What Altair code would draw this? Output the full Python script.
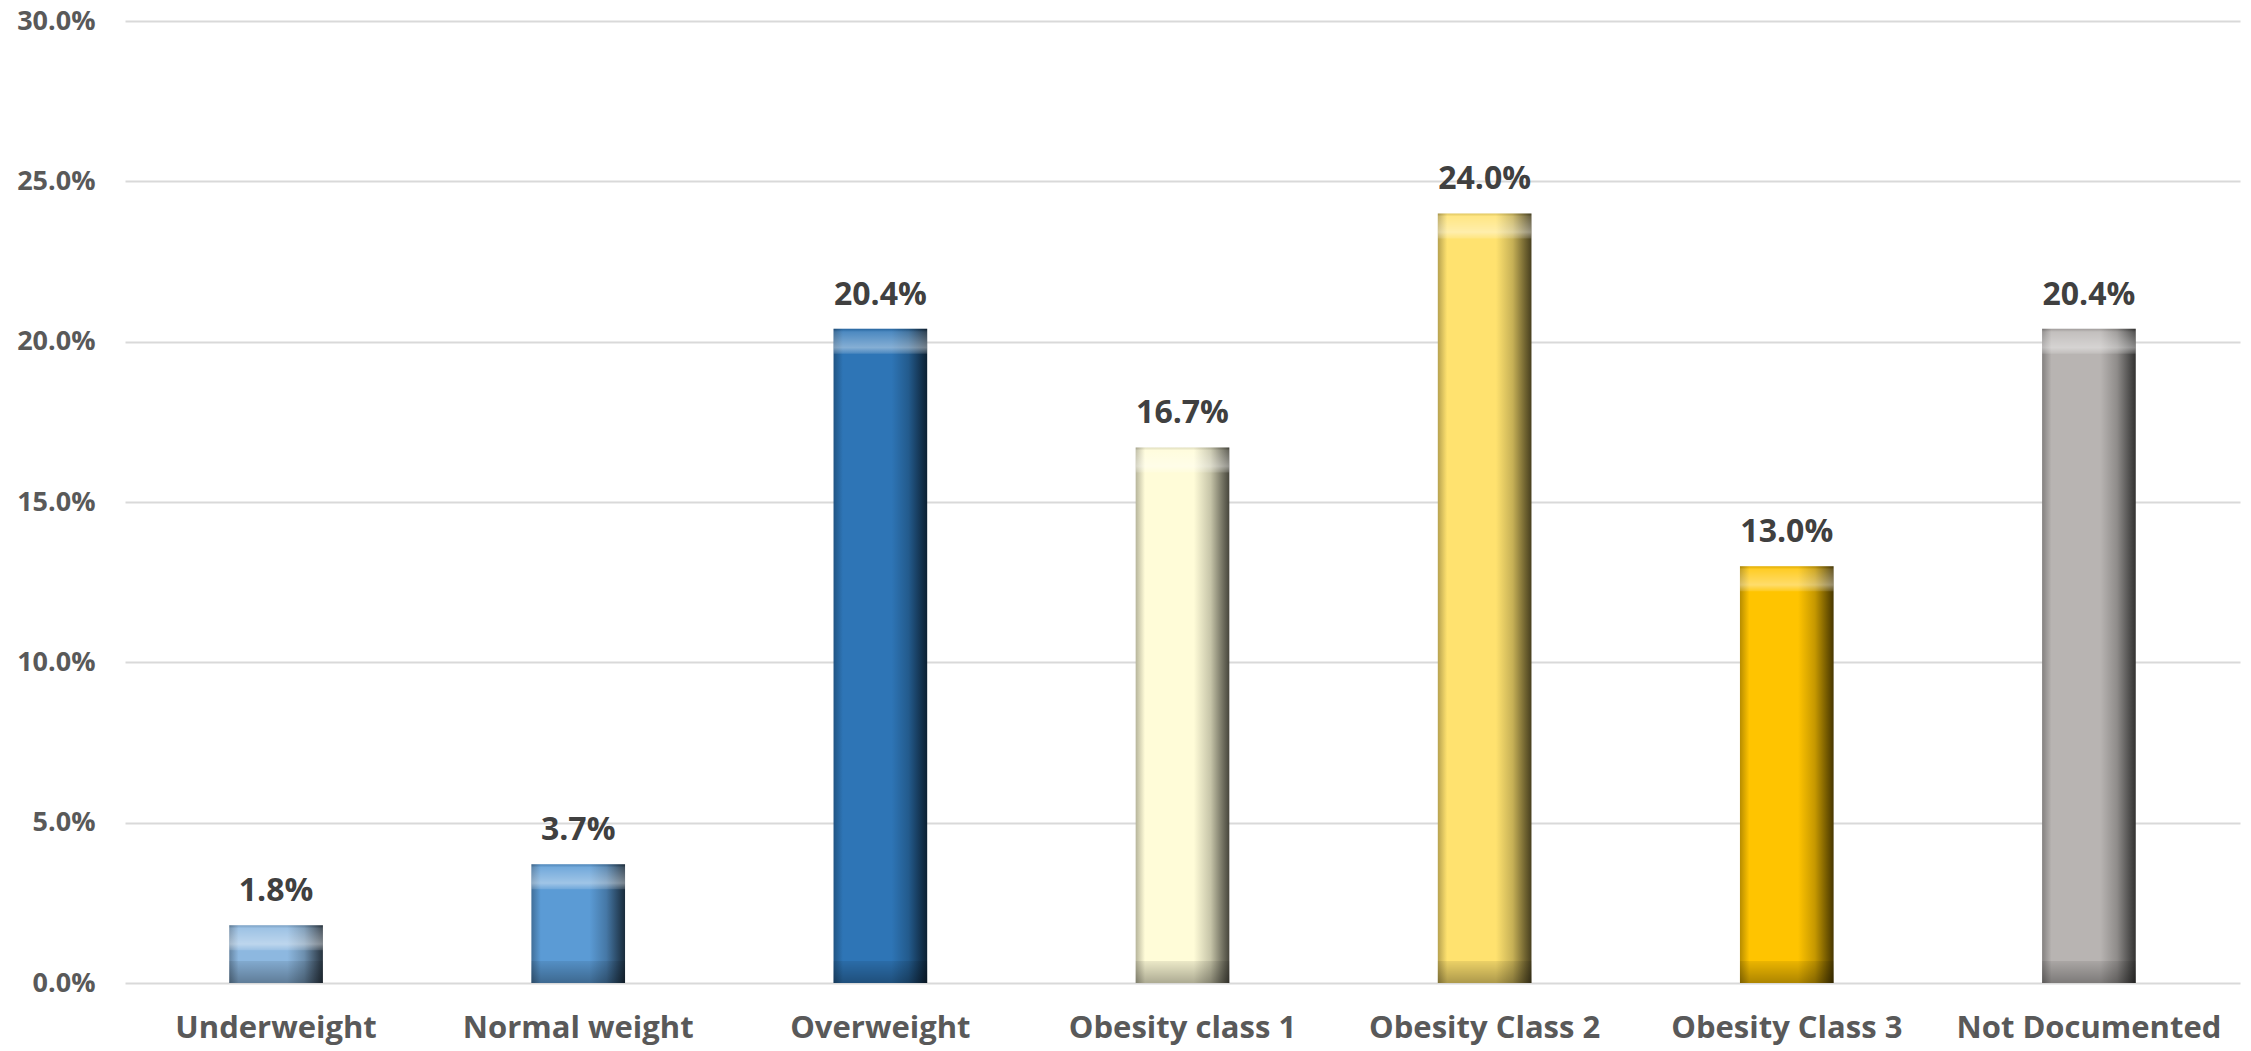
import altair as alt
import pandas as pd

# BMI category distribution
categories = [
    "Underweight",
    "Normal weight",
    "Overweight",
    "Obesity class 1",
    "Obesity Class 2",
    "Obesity Class 3",
    "Not Documented",
]
values = [1.8, 3.7, 20.4, 16.7, 24.0, 13.0, 20.4]

# base fill for each bar
palette = ["#8DB8E0", "#5B9BD5", "#2E75B6", "#FFFCD8", "#FFE26F", "#FFC400", "#B8B4B2"]

df = pd.DataFrame({"cat": categories, "pct": [v / 100 for v in values]})
df["label"] = [f"{v:.1f}%" for v in values]
df["zero"] = 0.0


def shade(hex_color, f):
    h = hex_color.lstrip("#")
    r, g, b = (int(h[i:i + 2], 16) for i in (0, 2, 4))
    return "#{:02x}{:02x}{:02x}".format(int(r * f), int(g * f), int(b * f))


x_enc = alt.X(
    "cat:N",
    sort=categories,
    scale=alt.Scale(domain=categories, paddingInner=0.69, paddingOuter=0.345),
    axis=alt.Axis(
        title=None,
        labelAngle=0,
        labelFont="Open Sans",
        labelFontWeight="bold",
        labelFontSize=31,
        labelColor="#595959",
        labelPadding=30,
        labelLimit=0,
        ticks=False,
        domain=False,
        grid=False,
    ),
)
y_scale = alt.Scale(domain=[0, 0.30], nice=False)
y_enc = alt.Y(
    "pct:Q",
    scale=y_scale,
    axis=alt.Axis(
        title=None,
        format=".1%",
        values=[0, 0.05, 0.10, 0.15, 0.20, 0.25, 0.30],
        labelFont="Open Sans",
        labelFontWeight="bold",
        labelFontSize=27,
        labelColor="#595959",
        labelPadding=30,
        ticks=False,
        domain=False,
        gridColor="#D9D9D9",
        gridWidth=2,
    ),
)

base = alt.Chart(df)
layers = []

# body of each bar with a horizontal shading gradient
for cat, col in zip(categories, palette):
    grad = alt.Gradient(
        gradient="linear",
        x1=0, x2=1, y1=0, y2=0,
        stops=[
            alt.GradientStop(color=shade(col, 0.72), offset=0.0),
            alt.GradientStop(color=col, offset=0.1),
            alt.GradientStop(color=col, offset=0.62),
            alt.GradientStop(color=shade(col, 0.78), offset=0.8),
            alt.GradientStop(color=shade(col, 0.45), offset=0.93),
            alt.GradientStop(color=shade(col, 0.28), offset=1.0),
        ],
    )
    layers.append(
        base.transform_filter(alt.datum.cat == cat)
        .mark_bar(color=grad)
        .encode(x=x_enc, y=y_enc)
    )

# top highlight bevel
top_grad = alt.Gradient(
    gradient="linear",
    x1=0, x2=0, y1=0, y2=1,
    stops=[
        alt.GradientStop(color="rgba(0,0,0,0.12)", offset=0.0),
        alt.GradientStop(color="rgba(255,255,255,0.15)", offset=0.12),
        alt.GradientStop(color="rgba(255,255,255,0.42)", offset=0.75),
        alt.GradientStop(color="rgba(255,255,255,0.12)", offset=1.0),
    ],
)
layers.append(
    base.mark_bar(color=top_grad, y2Offset=25).encode(
        x=x_enc, y=y_enc, y2=alt.Y2("pct:Q")
    )
)

# bottom shadow bevel
bottom_grad = alt.Gradient(
    gradient="linear",
    x1=0, x2=0, y1=0, y2=1,
    stops=[
        alt.GradientStop(color="rgba(0,0,0,0.08)", offset=0.0),
        alt.GradientStop(color="rgba(0,0,0,0.32)", offset=1.0),
    ],
)
layers.append(
    base.mark_bar(color=bottom_grad, y2Offset=-22).encode(
        x=x_enc, y=alt.Y("zero:Q", scale=y_scale), y2=alt.Y2("zero:Q")
    )
)

# value labels above the bars
layers.append(
    base.mark_text(
        baseline="bottom",
        dy=-17,
        font="Open Sans",
        fontWeight="bold",
        fontSize=32,
        color="#404040",
    ).encode(x=x_enc, y=y_enc, text="label:N")
)

chart = (
    alt.layer(*layers)
    .properties(
        width=2115,
        height=962,
        padding={"left": 125, "top": 21, "right": 11, "bottom": 68},
        autosize=alt.AutoSizeParams(type="none"),
        background="white",
    )
    .configure_view(stroke=None)
)

chart.save("out.html", embed_options={"renderer": "svg", "actions": False})
